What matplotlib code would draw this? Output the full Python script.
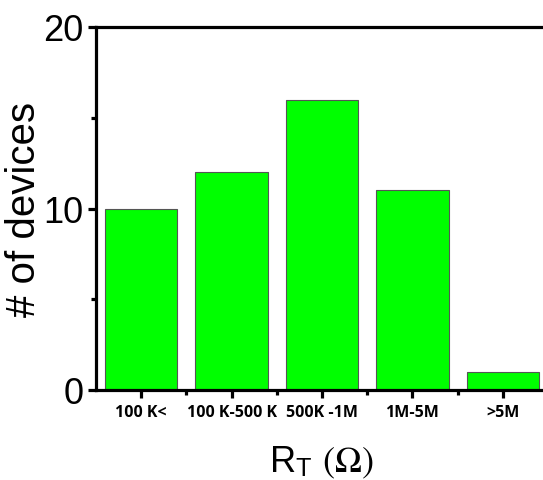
import matplotlib
matplotlib.use("Agg")
import matplotlib.pyplot as plt
from matplotlib.ticker import MultipleLocator, FixedLocator

plt.rcParams["mathtext.fontset"] = "stix"

# resistance bins and device counts
categories = ["100 K<", "100 K-500 K", "500K -1M", "1M-5M", ">5M"]
counts = [10, 12, 16, 11, 1]

fig = plt.figure(figsize=(5.43, 4.81), dpi=100)
ax = fig.add_axes([96 / 543, 90 / 481, 452 / 543, 363 / 481])

x = list(range(len(categories)))
ax.bar(x, counts, width=0.8, color="#00ff00", edgecolor="#555555", linewidth=0.8)

ax.set_xlim(-0.5, len(categories) - 0.5)
ax.set_ylim(0, 20)
ax.yaxis.set_major_locator(MultipleLocator(10))
ax.yaxis.set_minor_locator(MultipleLocator(5))
ax.set_xticks(x)
ax.set_xticklabels(categories, fontfamily="Open Sans", fontweight="bold", fontsize=11.5)
ax.xaxis.set_minor_locator(FixedLocator([i + 0.5 for i in x[:-1]]))

for s in ["left", "top", "bottom"]:
    ax.spines[s].set_linewidth(2.3)
ax.spines["right"].set_visible(False)

ax.tick_params(axis="both", which="major", direction="out", length=6, width=2.3)
ax.tick_params(axis="both", which="minor", direction="out", length=3.5, width=2.3)
ax.tick_params(axis="y", labelsize=26, pad=3)
for lab in ax.get_yticklabels():
    lab.set_fontfamily("Liberation Sans")
ax.tick_params(axis="x", pad=4)

ax.set_ylabel("# of devices", fontfamily="Liberation Sans", fontsize=29, labelpad=0)
ax.set_xlabel(r"R$_\mathregular{T}$ $(\Omega)$", fontfamily="Liberation Sans", fontsize=26, labelpad=17)

fig.savefig("out.png", dpi=100)
